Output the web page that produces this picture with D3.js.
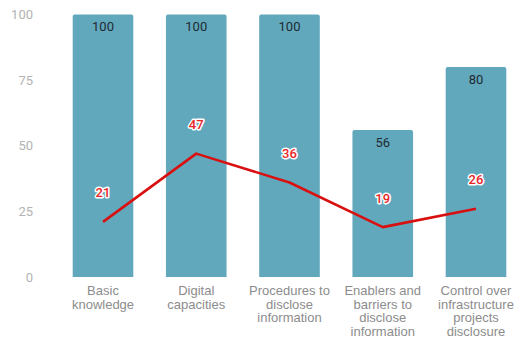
<!DOCTYPE html>
<html>
<head>
<meta charset="utf-8">
<script src="https://cdn.jsdelivr.net/npm/d3@7"></script>
<style>
  html, body { margin: 0; padding: 0; background: #fff; }
  svg { display: block; }
</style>
</head>
<body>
<svg id="chart" width="518" height="341"></svg>
<script>
// Categories (multi-line axis labels)
const categories = [
  ["Basic", "knowledge"],
  ["Digital", "capacities"],
  ["Procedures to", "disclose", "information"],
  ["Enablers and", "barriers to", "disclose", "information"],
  ["Control over", "infrastructure", "projects", "disclosure"]
];
// Bar series values
const barValues = [100, 100, 100, 56, 80];
// Line series values
const lineValues = [21, 47, 36, 19, 26];
// Y-axis tick values
const yTicks = [0, 25, 50, 75, 100];

const svg = d3.select("#chart");
const keys = d3.range(categories.length);

const x = d3.scaleBand()
  .domain(keys)
  .range([72.7, 506.3])
  .paddingInner(0.35)
  .paddingOuter(0);

const y = d3.scaleLinear()
  .domain([0, 100])
  .range([277, 14.5]);

// Y axis: labels only
const yAxis = d3.axisLeft(y).tickValues(yTicks).tickSize(0).tickPadding(0);
const yg = svg.append("g")
  .attr("transform", "translate(33,0)")
  .call(yAxis);
yg.select(".domain").remove();
yg.selectAll("text")
  .attr("fill", "#b3b3b3")
  .style("font-family", "Roboto, 'Liberation Sans', Arial, sans-serif")
  .style("font-size", "13px");

// Bars with slightly rounded tops
const barColor = "#62a8bd";
svg.append("g").selectAll("path")
  .data(keys)
  .join("path")
  .attr("fill", barColor)
  .attr("d", i => {
    const x0 = x(i), w = x.bandwidth(), y0 = y(barValues[i]), y1 = y(0), r = 2;
    return `M${x0},${y1}V${y0 + r}Q${x0},${y0} ${x0 + r},${y0}H${x0 + w - r}Q${x0 + w},${y0} ${x0 + w},${y0 + r}V${y1}Z`;
  });

// Bar value labels
svg.append("g").selectAll("text")
  .data(keys)
  .join("text")
  .attr("x", i => x(i) + x.bandwidth() / 2)
  .attr("y", i => y(barValues[i]) + 12)
  .attr("text-anchor", "middle")
  .attr("dominant-baseline", "central")
  .attr("fill", "#1f2a30")
  .style("font-family", "Roboto, 'Liberation Sans', Arial, sans-serif")
  .style("font-size", "13px")
  .text(i => barValues[i]);

// Line series
const line = d3.line()
  .x(i => x(i) + x.bandwidth() / 2)
  .y(i => y(lineValues[i]));
svg.append("path")
  .datum(keys)
  .attr("fill", "none")
  .attr("stroke", "#d81010")
  .attr("stroke-width", 2.6)
  .attr("stroke-linejoin", "round")
  .attr("d", line);

// Line value labels with white halo
svg.append("g").selectAll("text")
  .data(keys)
  .join("text")
  .attr("x", i => x(i) + x.bandwidth() / 2)
  .attr("y", i => y(lineValues[i]) - 29)
  .attr("text-anchor", "middle")
  .attr("dominant-baseline", "central")
  .attr("fill", "#e8262a")
  .attr("stroke", "#fff")
  .attr("stroke-width", 3)
  .attr("stroke-linejoin", "round")
  .attr("paint-order", "stroke")
  .style("font-family", "Roboto, 'Liberation Sans', Arial, sans-serif")
  .style("font-size", "13px")
  .style("font-weight", "500")
  .text(i => lineValues[i]);

// X axis category labels
const xg = svg.append("g");
keys.forEach(i => {
  const t = xg.append("text")
    .attr("x", x(i) + x.bandwidth() / 2)
    .attr("y", 295)
    .attr("text-anchor", "middle")
    .attr("fill", "#8c8c8c")
    .style("font-family", "'Liberation Sans', Arial, sans-serif")
    .style("font-size", "13px");
  categories[i].forEach((ln, j) => {
    t.append("tspan")
      .attr("x", x(i) + x.bandwidth() / 2)
      .attr("dy", j === 0 ? 0 : 13.5)
      .text(ln);
  });
});
</script>
</body>
</html>
